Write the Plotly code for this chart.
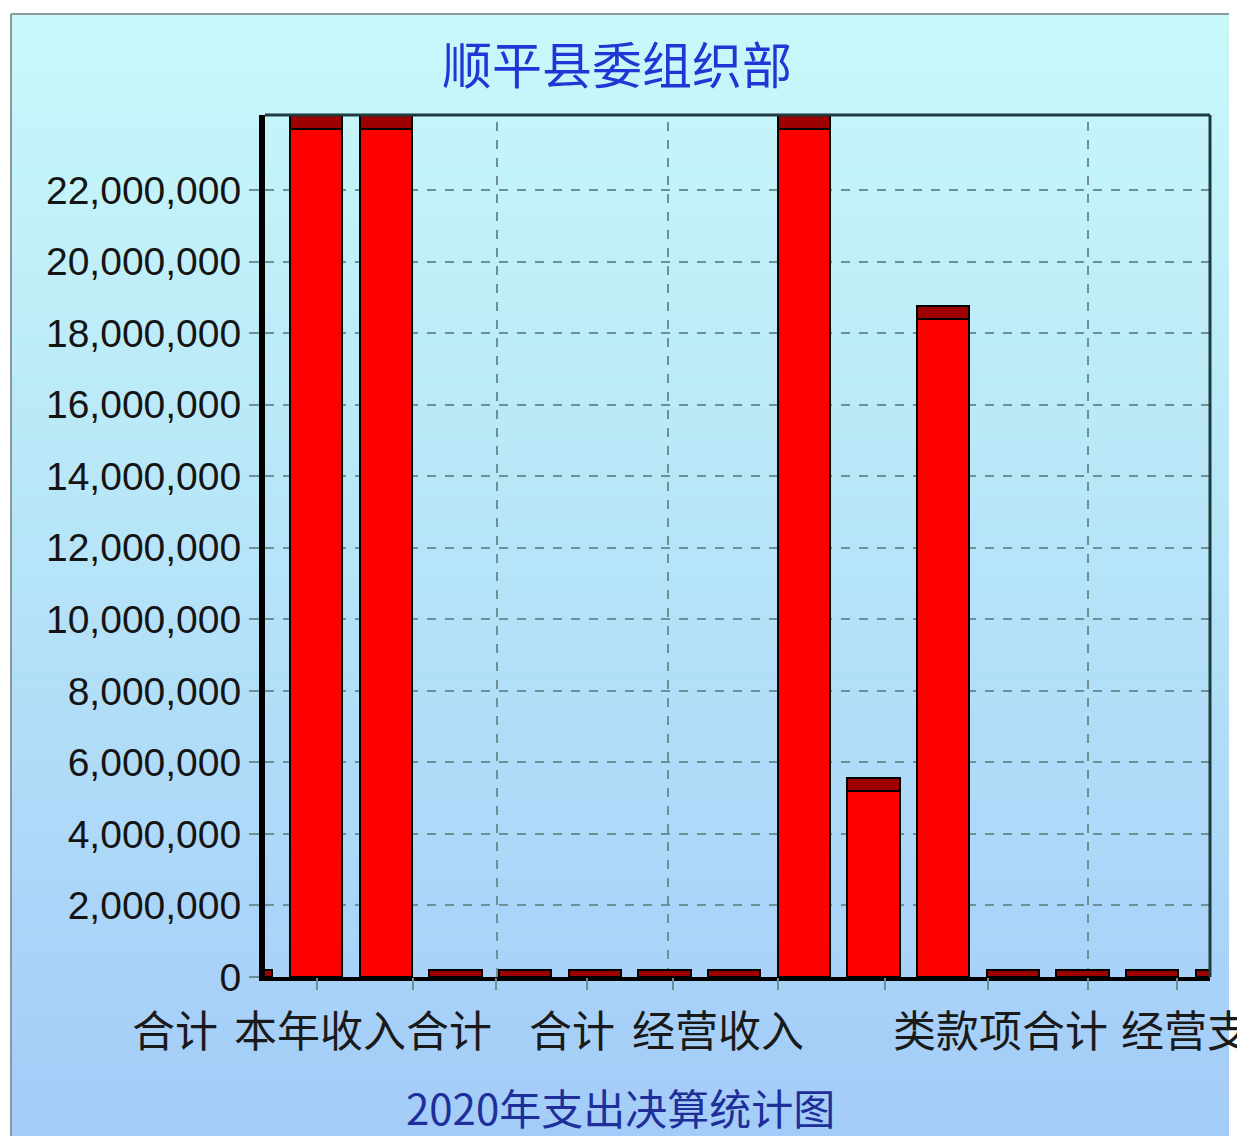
import plotly.graph_objects as go

# ---------------- data ----------------
categories = ["c00", "c01", "c02", "c03", "c04", "c05", "c06", "c07",
              "c08", "c09", "c10", "c11", "c12", "c13", "c14"]
values = [0, 24100000, 24100000, 0, 0, 0, 0, 0,
          24100000, 5570000, 18770000, 0, 0, 0, 0]
axis_labels = ["合计", "本年收入合计", "合计", "经营收入", "类款项合计", "经营支出合计"]
y_ticks = [0, 2000000, 4000000, 6000000, 8000000, 10000000, 12000000,
           14000000, 16000000, 18000000, 20000000, 22000000]
title_text = "顺平县委组织部"
x_title_text = "2020年支出决算统计图"

# ---------------- geometry (pixels) ----------------
W, H = 1237, 1136
PL, PR, PT, PB = 265, 1210, 115, 977
pw, ph = PR - PL, PB - PT


def xp(px):
    return (px - PL) / pw


def yp(py):
    return (PB - py) / ph


CAP = 380000
ZERO_CAP = 200000
cap_vals = [CAP if v > CAP else ZERO_CAP for v in values]
body_vals = [max(v - c, 0) for v, c in zip(values, cap_vals)]

fig = go.Figure()
fig.add_bar(x=categories, y=body_vals, marker=dict(color="#ff0000", line=dict(color="black", width=2)),
            width=0.75, hoverinfo="skip")
fig.add_bar(x=categories, y=cap_vals, marker=dict(color="#9c0000", line=dict(color="black", width=2)),
            width=0.75, hoverinfo="skip")

shapes = []
# gradient background
top_c = (201, 249, 251)
mid_c = (184, 230, 248)
bot_c = (164, 204, 248)
y0, y1 = 14, H
n = 60
for i in range(n):
    a = y0 + (y1 - y0) * i / n
    b = y0 + (y1 - y0) * (i + 1) / n
    t = (i + 0.5) / n
    if t < 0.45:
        u = t / 0.45
        c = tuple(int(top_c[k] + (mid_c[k] - top_c[k]) * u) for k in range(3))
    else:
        u = (t - 0.45) / 0.55
        c = tuple(int(mid_c[k] + (bot_c[k] - mid_c[k]) * u) for k in range(3))
    shapes.append(dict(type="rect", xref="paper", yref="paper", layer="below",
                       x0=xp(11), x1=xp(1229), y0=yp(b + 0.5), y1=yp(a),
                       fillcolor="rgb(%d,%d,%d)" % c, line=dict(width=0)))
# outer frame lines (top & left)
shapes.append(dict(type="line", xref="paper", yref="paper", x0=xp(11), x1=xp(1229), y0=yp(14), y1=yp(14),
                   line=dict(color="#8a9a9c", width=2)))
shapes.append(dict(type="line", xref="paper", yref="paper", x0=xp(11), x1=xp(11), y0=yp(14), y1=yp(H),
                   line=dict(color="#8a9a9c", width=2)))
# vertical dashed grid lines
for gx in [497, 668, 1088]:
    shapes.append(dict(type="line", xref="paper", yref="paper", layer="below", x0=xp(gx), x1=xp(gx),
                       y0=0, y1=1, line=dict(color="#6f8f96", width=2, dash="dash")))

annotations = []
label_centers = [175, 363, 572, 718, 1000, 1250]
for txt, cx in zip(axis_labels, label_centers):
    annotations.append(dict(text=txt, xref="paper", yref="paper", x=xp(cx), y=yp(1028),
                            xanchor="center", yanchor="middle", showarrow=False,
                            font=dict(family="Noto Sans CJK SC", size=43, color="#1a1a1a")))
annotations.append(dict(text=title_text, xref="paper", yref="paper", x=xp(617), y=yp(62),
                        xanchor="center", yanchor="middle", showarrow=False,
                        font=dict(family="Noto Sans CJK SC", size=50, color="#2236d6")))
annotations.append(dict(text=x_title_text, xref="paper", yref="paper", x=xp(620), y=yp(1106),
                        xanchor="center", yanchor="middle", showarrow=False,
                        font=dict(family="Noto Sans CJK SC", size=42, color="#1e2f9a")))

fig.update_layout(
    width=W, height=H,
    margin=dict(l=PL, r=W - PR, t=PT, b=H - PB, pad=0),
    paper_bgcolor="white",
    plot_bgcolor="rgba(0,0,0,0)",
    barmode="stack",
    showlegend=False,
    shapes=shapes,
    annotations=annotations,
    xaxis=dict(type="category", range=[0.268, 13.83], showticklabels=False, showgrid=False,
               showline=True, linecolor="black", linewidth=4, mirror=False, ticks="", zeroline=False),
    xaxis2=dict(overlaying="x", range=[PL, PR], anchor="y", side="bottom", showgrid=False,
                tickvals=[317, 413, 496, 587, 673, 778, 885, 988, 1088, 1177],
                ticks="outside", ticklen=12, tickwidth=2, tickcolor="#6f8f96",
                showticklabels=False, showline=False, zeroline=False),
    yaxis=dict(range=[0, 24100000], tickvals=y_ticks, tickformat=",d",
               showgrid=True, gridcolor="#6f8f96", gridwidth=2, griddash="dash",
               showline=True, linecolor="black", linewidth=6,
               ticks="outside", ticklen=10, tickwidth=2, tickcolor="#6f8f96",
               tickfont=dict(family="Liberation Sans", size=39, color="#141414"),
               zeroline=False),
)
# top and right frame of plot area
fig.add_shape(type="line", xref="paper", yref="paper", x0=0, x1=1, y0=1, y1=1,
              line=dict(color="#1e3c3e", width=3))
fig.add_shape(type="line", xref="paper", yref="paper", x0=1, x1=1, y0=0, y1=1,
              line=dict(color="#1e3c3e", width=3))
# invisible helper trace to activate xaxis2 ticks
fig.add_scatter(x=[PL], y=[0], xaxis="x2", mode="markers", marker=dict(opacity=0), hoverinfo="skip")

fig.write_html("out.html", config={"displayModeBar": False},
               post_script="document.body.style.margin='0';document.body.style.overflow='hidden';")
